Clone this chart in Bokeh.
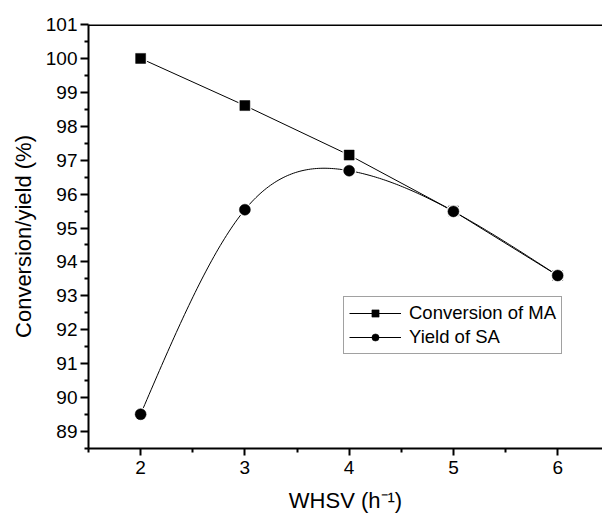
import numpy as np
from bokeh.plotting import figure
from bokeh.models import (Range1d, FixedTicker, Span, Legend, LegendItem)
from bokeh.embed import file_html
from bokeh.resources import INLINE

whsv = [2, 3, 4, 5, 6]
conversion_ma = [100.0, 98.61, 97.15, 95.5, 93.6]
yield_sa = [89.51, 95.54, 96.69, 95.49, 93.6]
x_ticks = [2, 3, 4, 5, 6]
y_ticks = list(range(89, 102))


def natural_spline(xs, ys, n=200):
    xs = np.asarray(xs, float)
    ys = np.asarray(ys, float)
    k = len(xs)
    h = np.diff(xs)
    A = np.zeros((k, k))
    b = np.zeros(k)
    A[0, 0] = 1
    A[-1, -1] = 1
    for i in range(1, k - 1):
        A[i, i - 1] = h[i - 1]
        A[i, i] = 2 * (h[i - 1] + h[i])
        A[i, i + 1] = h[i]
        b[i] = 3 * ((ys[i + 1] - ys[i]) / h[i] - (ys[i] - ys[i - 1]) / h[i - 1])
    c = np.linalg.solve(A, b)
    xx = np.linspace(xs[0], xs[-1], n)
    yy = np.empty_like(xx)
    for j, x in enumerate(xx):
        i = min(np.searchsorted(xs, x, side="right") - 1, k - 2)
        dx = x - xs[i]
        bi = (ys[i + 1] - ys[i]) / h[i] - h[i] * (2 * c[i] + c[i + 1]) / 3
        di = (c[i + 1] - c[i]) / (3 * h[i])
        yy[j] = ys[i] + bi * dx + c[i] * dx ** 2 + di * dx ** 3
    return xx, yy


FONT = "Liberation Sans"

p = figure(width=602, height=516, output_backend="svg", toolbar_location=None,
           x_range=Range1d(1.5, 6.43), y_range=Range1d(88.5, 101.0),
           min_border_left=88, min_border_right=0, min_border_top=24, min_border_bottom=68)
p.outline_line_color = None
p.grid.visible = False
p.background_fill_color = "white"
p.border_fill_color = "white"

# axes
p.xaxis.ticker = FixedTicker(ticks=x_ticks, minor_ticks=[v + 0.5 for v in [1] + x_ticks])
p.yaxis.ticker = FixedTicker(ticks=y_ticks, minor_ticks=[v + 0.5 for v in [88] + y_ticks])
for ax in (p.xaxis, p.yaxis):
    ax.axis_line_width = 2
    ax.axis_line_color = "black"
    ax.major_tick_line_width = 2
    ax.minor_tick_line_width = 2
    ax.major_tick_line_color = "black"
    ax.minor_tick_line_color = "black"
    ax.major_tick_in = 0
    ax.minor_tick_in = 0
    ax.minor_tick_out = 4
    ax.major_label_text_font = FONT
    ax.major_label_text_font_size = "19px"
    ax.major_label_text_color = "black"
    ax.axis_label_text_font = FONT
    ax.axis_label_text_font_size = "22px"
    ax.axis_label_text_font_style = "normal"
    ax.axis_label_text_color = "black"
p.xaxis.major_tick_out = 7
p.yaxis.major_tick_out = 8
p.xaxis.major_label_standoff = 5
p.yaxis.major_label_standoff = 3
p.xaxis.axis_label = "WHSV (h\u207b\u00b9)"
p.yaxis.axis_label = "Conversion/yield (%)"
p.xaxis.axis_label_standoff = 11
p.yaxis.axis_label_standoff = 7

p.add_layout(Span(location=101.0, dimension="width", line_color="black", line_width=3))

# conversion
conv_line = p.line(whsv, conversion_ma, line_color="black", line_width=1)
p.scatter(whsv, conversion_ma, marker="square", size=10, fill_color="black",
          line_color="white", line_width=3)
conv_pts = p.scatter(whsv, conversion_ma, marker="square", size=10, fill_color="black",
                     line_color="black", line_width=0.5)

# yield with spline through the data points
sx, sy = natural_spline(whsv, yield_sa)
yield_line = p.line(sx, sy, line_color="black", line_width=1)
p.scatter(whsv, yield_sa, marker="circle", size=11, fill_color="black",
          line_color="white", line_width=3)
yield_pts = p.scatter(whsv, yield_sa, marker="circle", size=11, fill_color="black",
                      line_color="black", line_width=0.5)

legend = Legend(items=[
    LegendItem(label="Conversion of MA", renderers=[conv_line, conv_pts]),
    LegendItem(label="Yield of SA", renderers=[yield_line, yield_pts]),
], location=(255, 94))
legend.label_text_font = FONT
legend.label_text_font_size = "18.5px"
legend.label_text_color = "black"
legend.border_line_color = "#444444"
legend.border_line_width = 1
legend.glyph_width = 52
legend.glyph_height = 18
legend.label_standoff = 8
legend.spacing = 2
legend.padding = 5
legend.margin = 0
legend.label_height = 18
legend.background_fill_color = "white"
legend.background_fill_alpha = 1
p.add_layout(legend, "center")

open("out.html", "w").write(file_html(p, INLINE))
